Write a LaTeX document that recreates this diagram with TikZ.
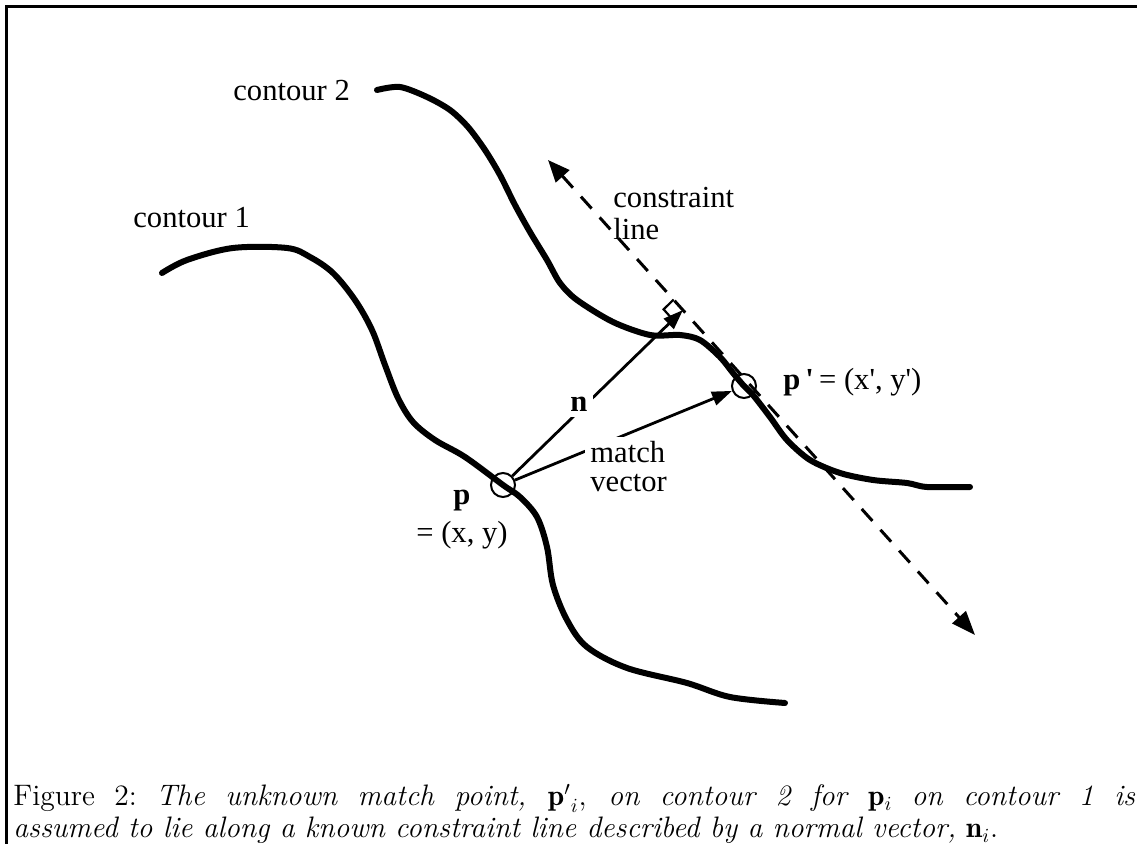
\documentclass[tikz,border=0pt]{standalone}
\usepackage{fontspec}
\newfontfamily\lab{Liberation Serif}
\usetikzlibrary{arrows.meta,calc}
\begin{document}
\begin{tikzpicture}[x=0.5pt,y=-0.5pt,
  contour/.style={line width=3pt, line cap=round, line join=round},
  vec/.style={line width=1.4pt, -{Triangle[length=10pt,width=7pt]}},
  lbl/.style={font=\lab\fontsize{15.3}{16}\selectfont, inner sep=0pt},
  wlbl/.style={lbl, fill=white, inner sep=2.5pt},
  pt/.style={circle, draw, line width=1pt, minimum size=12pt, inner sep=0pt},
  cline/.style={line width=1.5pt, dash pattern=on 8pt off 6pt,
    {Triangle[length=11pt,width=9pt]}-{Triangle[length=12pt,width=9pt]}},
  frame/.style={line width=1.5pt},
  caption/.style={font=\fontsize{14.8}{16}\selectfont, text width=561pt, align=justify, inner sep=0pt}
]
\useasboundingbox (0,0) rectangle (1137,844);
\draw[frame] (6,844) -- (6,7) -- (1137,7);

% contours
\draw[contour] plot[smooth, tension=0.55] coordinates {(162,273) (187,260) (233,248) (287,248) (310,257) (333,273) (355,300) (372,330) (385,365) (398,398) (413,422) (435,440) (465,457) (503,485) (520,497) (537,517) (547,547) (553,585) (567,620) (587,647) (627,668) (687,683) (730,697) (785,703)};
\draw[contour] plot[smooth, tension=0.5] coordinates {(377,90) (400,87) (427,97) (450,110) (468,127) (485,150) (500,175) (515,205) (530,232) (547,260) (560,283) (577,300) (613,322) (650,335) (680,335) (700,340) (720,357) (733,373) (744,386) (753,395) (770,417) (787,440) (810,460) (840,473) (873,480) (907,483) (927,487) (970,487)};

% points
\node[pt] (p) at (503,485) {};
\node[pt] (pp) at (744,386) {};

% constraint line
\coordinate (c1) at (548,160);
\coordinate (c2) at (975,635);
\coordinate (F) at (683,310);
\draw[cline] (c1) -- (c2);

% vectors
\draw[vec] (p) -- (F);
\draw[vec] (p) -- (pp);

% right angle mark
\coordinate (r1) at ($(F)!7pt!(c1)$);
\coordinate (r3) at ($(F)!7pt!(p.center)$);
\draw[line width=1.1pt] (r1) -- ($(r1)+(r3)-(F)$) -- (r3);

% labels
\node[wlbl, anchor=base] (nlab) at (579,412) {\bfseries n};
\node[wlbl, anchor=base west, align=left, font=\lab\fontsize{15.3}{14.5}\selectfont] (mv) at (585,492) {match\\vector};
\node[lbl, anchor=base west] (c2lab) at (233,101) {contour 2};
\node[lbl, anchor=base west] (c1lab) at (133,228) {contour 1};
\node[lbl, anchor=base west, align=left] (cllab) at (613,240) {constraint\\line};
\node[lbl, anchor=base, align=center, font=\lab\fontsize{15.3}{19}\selectfont] (plab) at (462,543) {\bfseries p\\= (x, y)};
\node[lbl, anchor=base west] (pplab) at (783,390) {{\bfseries p\,\textquotesingle}\,= (x\textquotesingle, y\textquotesingle)};

% caption
\node[caption, anchor=base west] (cap) at (13,806) {Figure 2:\ \textit{The unknown match point,} $\mathbf{p'}_{i}$, \textit{on contour 2 for} $\mathbf{p}_i$ \textit{on contour 1 is}\linebreak \textit{assumed to lie along a known constraint line described by a normal vector,} $\mathbf{n}_i$.};
\end{tikzpicture}
\end{document}
